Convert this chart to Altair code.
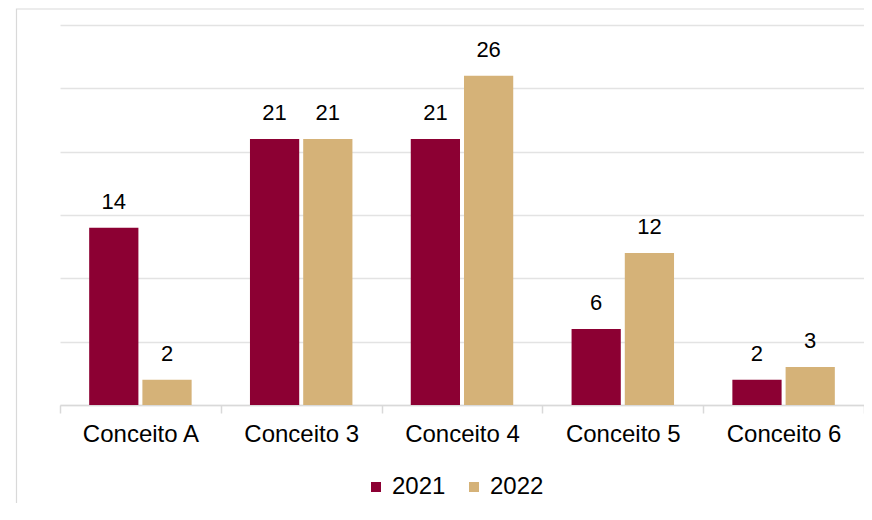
import altair as alt
import pandas as pd

categories = ["Conceito A", "Conceito 3", "Conceito 4", "Conceito 5", "Conceito 6"]
series = ["2021", "2022"]
values_2021 = [14, 21, 21, 6, 2]
values_2022 = [2, 21, 26, 12, 3]
colors = ["#8C0033", "#D5B278"]
grid_values = [0, 5, 10, 15, 20, 25, 30]

rows = []
for c, v1, v2 in zip(categories, values_2021, values_2022):
    rows.append({"cat": c, "ano": series[0], "val": v1})
    rows.append({"cat": c, "ano": series[1], "val": v2})
df = pd.DataFrame(rows)

FONT = "Liberation Sans"

x_enc = alt.X(
    "cat:N",
    sort=categories,
    scale=alt.Scale(paddingInner=0, paddingOuter=0),
    axis=alt.Axis(
        title=None, labelAngle=0, labelFontSize=24, labelColor="black", labelFont=FONT,
        domainColor="#D9D9D9", domainWidth=1.5, tickColor="#D9D9D9", tickSize=8,
        tickWidth=1.5, tickBand="extent", labelPadding=9, grid=False,
    ),
)
xoff = alt.XOffset("ano:N", sort=series, scale=alt.Scale(paddingInner=0.075, paddingOuter=0.548))
y_enc = alt.Y(
    "val:Q",
    scale=alt.Scale(domain=[0, 30], nice=False),
    axis=alt.Axis(
        title=None, labels=False, ticks=False, domain=False, grid=True,
        gridColor="#E3E3E3", gridWidth=1.5, values=grid_values,
    ),
)
color_enc = alt.Color(
    "ano:N",
    sort=series,
    scale=alt.Scale(domain=series, range=colors),
    legend=alt.Legend(
        title=None, orient="none", direction="horizontal", legendX=304, legendY=450,
        symbolType="square", symbolSize=100, symbolStrokeWidth=0, labelFontSize=24,
        labelFont=FONT, labelColor="black", labelOffset=4, columnPadding=16, padding=0,
    ),
)

bars = alt.Chart(df).mark_bar().encode(x=x_enc, xOffset=xoff, y=y_enc, color=color_enc)
labels = alt.Chart(df).mark_text(
    baseline="alphabetic", dy=-19, fontSize=22, font=FONT, color="black"
).encode(x=alt.X("cat:N", sort=categories), xOffset=alt.XOffset("ano:N", sort=series), y="val:Q", text="val:Q")

border = alt.Chart(pd.DataFrame({"a": [0]})).mark_rect(
    fill=None, stroke="#D9D9D9", strokeWidth=1.2
).encode(x=alt.value(-43.5), x2=alt.value(900), y=alt.value(-16), y2=alt.value(600))

chart = alt.layer(border, bars, labels).properties(
    width=804, height=380,
    autosize=alt.AutoSizeParams(type="none"),
    padding={"left": 52, "top": 17, "right": 0, "bottom": 98},
).configure(font=FONT, view=alt.ViewConfig(stroke="transparent", strokeWidth=0))

chart.save("out.html", embed_options={"renderer": "svg", "actions": False})
